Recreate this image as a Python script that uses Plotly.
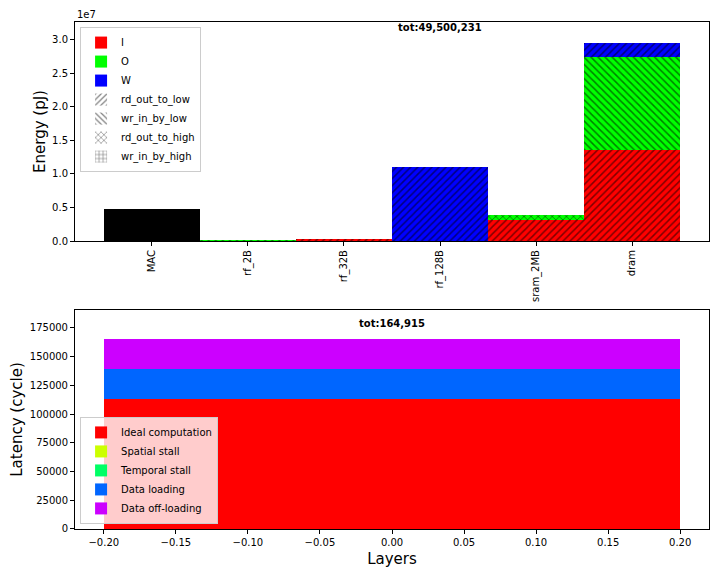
import plotly.graph_objects as go

# ---------------- data ----------------
categories = ["MAC", "rf_2B", "rf_32B", "rf_128B", "sram_2MB", "dram"]
mac_energy = [4.76e6, 0, 0, 0, 0, 0]
I_rd_out_to_low = [0, 0, 3.0e5, 0, 3.2e6, 1.354e7]
O_wr_in_by_low = [0, 1.0e5, 0, 0, 0, 1.389e7]
O_rd_out_to_high = [0, 0, 0, 0, 6.7e5, 0]
W_rd_out_to_low = [0, 0, 0, 1.10e7, 0, 2.1e6]
energy_total_label = "tot:49,500,231"

energy_yticks = [0, 5e6, 1e7, 1.5e7, 2e7, 2.5e7, 3e7]
energy_yticklabels = ["0.0", "0.5", "1.0", "1.5", "2.0", "2.5", "3.0"]

lat_names = ["Ideal computation", "Spatial stall", "Temporal stall", "Data loading", "Data off-loading"]
lat_values = [112700, 0, 0, 26800, 25415]
lat_colors = ["#ff0000", "#ccff00", "#00ff66", "#0066ff", "#cc00ff"]
lat_total_label = "tot:164,915"
lat_xticks = [-0.20, -0.15, -0.10, -0.05, 0.00, 0.05, 0.10, 0.15, 0.20]

op_colors = {"I": "#ff0000", "O": "#00ff00", "W": "#0000ff"}
dir_patterns = {"rd_out_to_low": "/", "wr_in_by_low": "\\", "rd_out_to_high": "x", "wr_in_by_high": "+"}

FONT = "DejaVu Sans"
fig = go.Figure()

def pat(shape):
    return dict(shape=shape, fgcolor="black", size=5, solidity=0.3)

# MAC bar
fig.add_trace(go.Bar(x=categories, y=mac_energy, marker=dict(color="black", line=dict(width=0)),
                     showlegend=False, xaxis="x", yaxis="y"))

segments = [("I", "rd_out_to_low", I_rd_out_to_low),
            ("O", "wr_in_by_low", O_wr_in_by_low),
            ("O", "rd_out_to_high", O_rd_out_to_high),
            ("W", "rd_out_to_low", W_rd_out_to_low)]
for op, d, vals in segments:
    fig.add_trace(go.Bar(x=categories, y=vals,
                         marker=dict(color=op_colors[op], line=dict(width=0), pattern=pat(dir_patterns[d])),
                         showlegend=False, xaxis="x", yaxis="y"))

# legend entries (top)
for op, c in op_colors.items():
    fig.add_trace(go.Bar(x=[categories[0]], y=[0], name=op, marker=dict(color=c, line=dict(width=0)),
                         legend="legend", xaxis="x", yaxis="y"))
for d, s in dir_patterns.items():
    fig.add_trace(go.Bar(x=[categories[0]], y=[0], name=d,
                         marker=dict(color="white", line=dict(width=0), pattern=pat(s)),
                         legend="legend", xaxis="x", yaxis="y"))

# latency
for n, v, c in zip(lat_names, lat_values, lat_colors):
    fig.add_trace(go.Bar(x=[0], y=[v], width=[0.4], name=n, marker=dict(color=c, line=dict(width=0)),
                         legend="legend2", xaxis="x2", yaxis="y2"))

axis_common = dict(showline=True, linecolor="black", linewidth=1, mirror=True, ticks="outside",
                   ticklen=4, tickcolor="black", showgrid=False, zeroline=False, automargin=False,
                   tickfont=dict(family=FONT, size=10, color="black"))

fig.update_layout(
    width=712, height=568, barmode="stack", bargap=0,
    paper_bgcolor="white", plot_bgcolor="white",
    margin=dict(l=67, r=11, t=14, b=47),
    font=dict(family=FONT, size=10, color="black"),
    xaxis=dict(domain=[0, 1], anchor="y", range=[-0.8, 5.8], tickangle=-90, **axis_common),
    yaxis=dict(domain=[0.568, 1], anchor="x", range=[0, 3.26e7], tickvals=energy_yticks,
               ticktext=energy_yticklabels,
               title=dict(text="Energy (pJ)", font=dict(family=FONT, size=15), standoff=2), **axis_common),
    xaxis2=dict(domain=[0, 1], anchor="y2", range=[-0.22, 0.22], tickvals=lat_xticks,
                ticktext=[f"{t:.2f}".replace("-", "\u2212") for t in lat_xticks],
                title=dict(text="Layers", font=dict(family=FONT, size=15), standoff=6), **axis_common),
    yaxis2=dict(domain=[0, 0.432], anchor="x2", range=[0, 190500], dtick=25000, tickformat="d",
                title=dict(text="Latency (cycle)", font=dict(family=FONT, size=15), standoff=8), **axis_common),
    legend=dict(x=0.008, y=0.99, xanchor="left", yanchor="top", bgcolor="rgba(255,255,255,0.8)",
                bordercolor="#cccccc", borderwidth=1, font=dict(family=FONT, size=10),
                tracegroupgap=0, itemwidth=30, traceorder="normal"),
    legend2=dict(x=0.008, y=0.01, xanchor="left", yanchor="bottom", bgcolor="rgba(255,255,255,0.8)",
                 bordercolor="#cccccc", borderwidth=1, font=dict(family=FONT, size=10),
                 tracegroupgap=0, itemwidth=30, traceorder="normal"),
    annotations=[
        dict(text="1e7", xref="paper", yref="paper", x=0, y=1.0, xanchor="left", yanchor="bottom",
             showarrow=False, font=dict(family=FONT, size=10), yshift=0),
        dict(text="<b>" + energy_total_label + "</b>", xref="x", yref="y domain", x=3, y=0.977,
             xanchor="center", yanchor="middle", showarrow=False, font=dict(family=FONT, size=10)),
        dict(text="<b>" + lat_total_label + "</b>", xref="x2", yref="y2 domain", x=0, y=0.936,
             xanchor="center", yanchor="middle", showarrow=False, font=dict(family=FONT, size=10)),
    ],
)

fig.write_html("out.html")
